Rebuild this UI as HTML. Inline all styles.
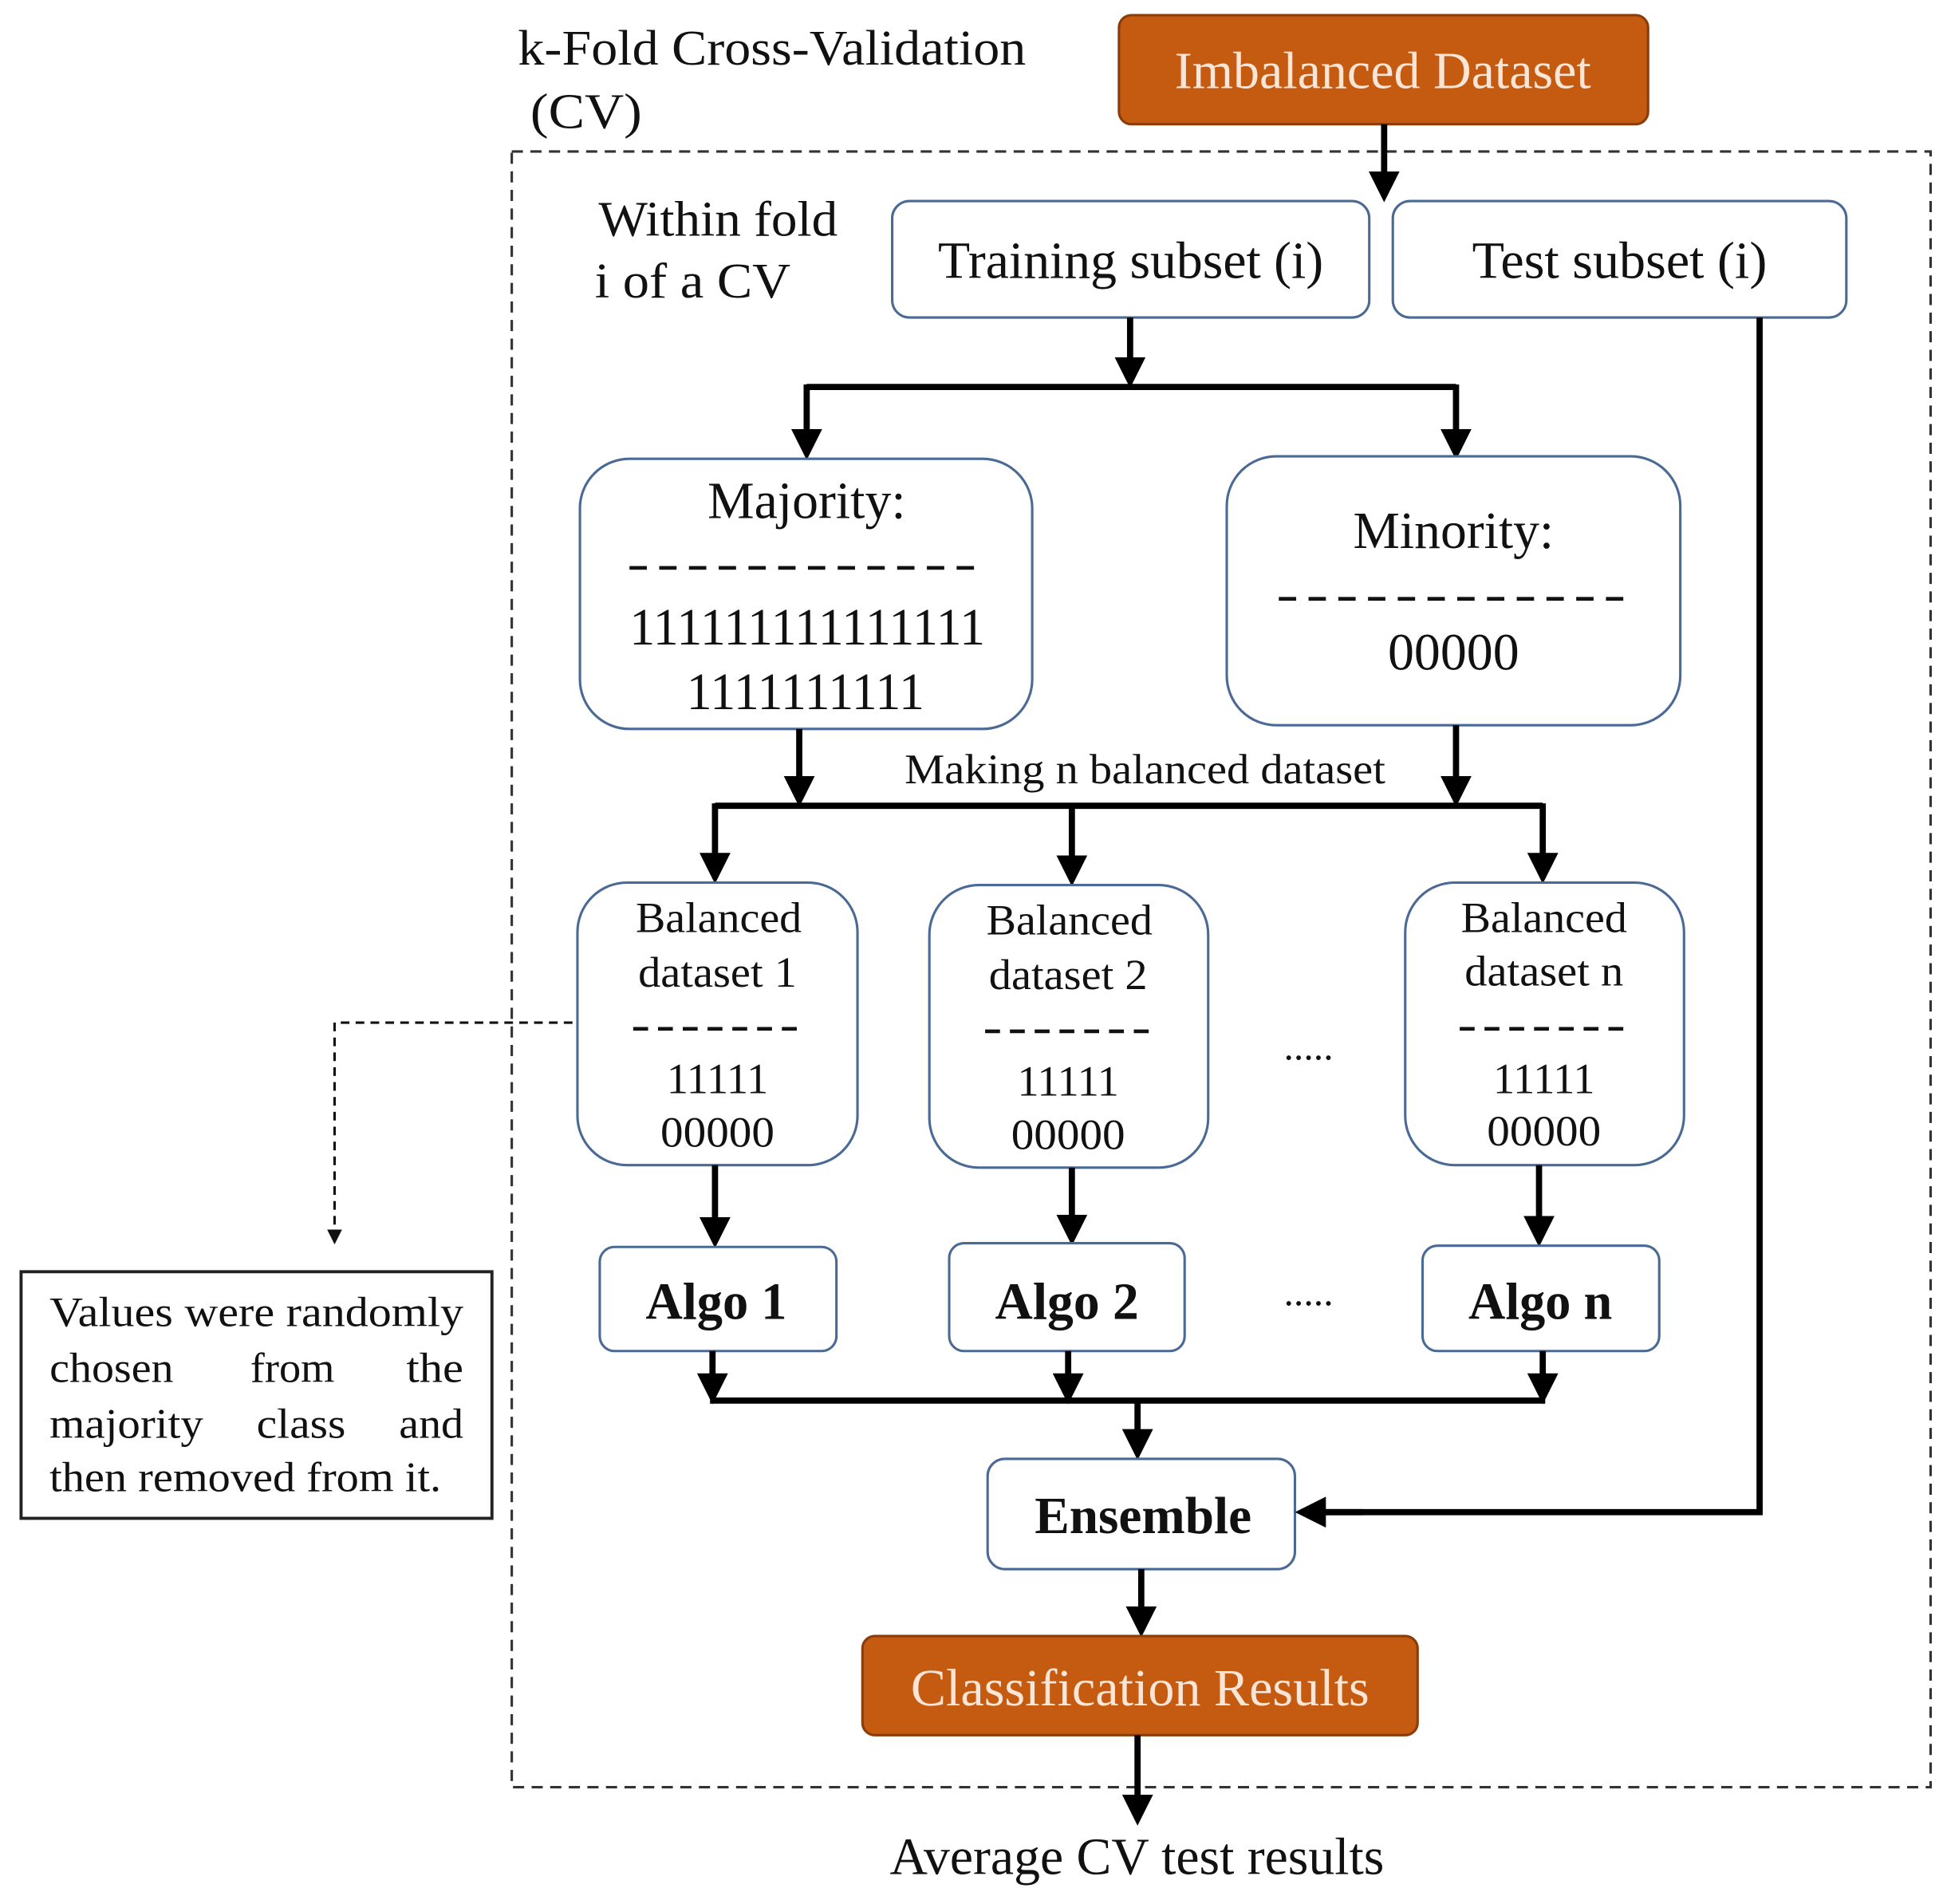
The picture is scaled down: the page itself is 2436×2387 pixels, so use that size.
<!DOCTYPE html>
<html><head><meta charset="utf-8"><style>
html,body{margin:0;padding:0;background:#fff}
svg{display:block}
text{font-family:"Liberation Serif",serif;fill:#111}
</style></head><body>
<svg width="2436" height="2387" viewBox="0 0 1568 1536" xmlns="http://www.w3.org/2000/svg">
<defs>
<marker id="ah" markerWidth="5" markerHeight="5" refX="4" refY="2.5" orient="auto" markerUnits="strokeWidth">
<path d="M0,0 L5,2.5 L0,5 z" fill="#000"/></marker>
</defs>

<rect x="413" y="122" width="1145" height="1320" fill="none" stroke="#333" stroke-width="2" stroke-dasharray="9,6"/>

<text x="418" y="52" font-size="40" textLength="410" lengthAdjust="spacingAndGlyphs">k-Fold Cross-Validation</text>
<text x="428" y="103" font-size="40" textLength="90" lengthAdjust="spacingAndGlyphs">(CV)</text>
<text x="483" y="190" font-size="40" textLength="193" lengthAdjust="spacingAndGlyphs">Within fold</text>
<text x="480" y="240" font-size="40" textLength="158" lengthAdjust="spacingAndGlyphs">i of a CV</text>

<rect x="903" y="12" width="427" height="88" rx="10" fill="#C55A11" stroke="#8a3c0a" stroke-width="2"/>
<text x="948" y="71" font-size="42" textLength="336" lengthAdjust="spacingAndGlyphs" style="fill:#FBE5D6">Imbalanced Dataset</text>
<line x1="1117" y1="100" x2="1117" y2="158" stroke="#000" stroke-width="5" marker-end="url(#ah)"/>

<rect x="720" y="162" width="385" height="94" rx="14" fill="#fff" stroke="#4a6a95" stroke-width="2"/>
<text x="757" y="224" font-size="42" textLength="311" lengthAdjust="spacingAndGlyphs">Training subset (i)</text>
<rect x="1124" y="162" width="366" height="94" rx="14" fill="#fff" stroke="#4a6a95" stroke-width="2"/>
<text x="1188" y="224" font-size="42" textLength="238" lengthAdjust="spacingAndGlyphs">Test subset (i)</text>

<line x1="912" y1="256" x2="912" y2="308" stroke="#000" stroke-width="5" marker-end="url(#ah)"/>
<line x1="651" y1="312" x2="1175" y2="312" stroke="#000" stroke-width="5"/>
<line x1="651" y1="310" x2="651" y2="366" stroke="#000" stroke-width="5" marker-end="url(#ah)"/>
<line x1="1175" y1="310" x2="1175" y2="366" stroke="#000" stroke-width="5" marker-end="url(#ah)"/>

<rect x="468" y="370" width="365" height="218" rx="40" fill="#fff" stroke="#4a6a95" stroke-width="2"/>
<text x="571" y="418" font-size="42" textLength="160" lengthAdjust="spacingAndGlyphs">Majority:</text>
<line x1="508" y1="458" x2="795" y2="458" stroke="#111" stroke-width="3" stroke-dasharray="14,10"/>
<text x="508" y="520" font-size="42" textLength="287" lengthAdjust="spacingAndGlyphs">111111111111111</text>
<text x="554" y="572" font-size="42" textLength="192" lengthAdjust="spacingAndGlyphs">1111111111</text>

<rect x="990" y="368" width="366" height="217" rx="40" fill="#fff" stroke="#4a6a95" stroke-width="2"/>
<text x="1092" y="442" font-size="42" textLength="162" lengthAdjust="spacingAndGlyphs">Minority:</text>
<line x1="1032" y1="483" x2="1316" y2="483" stroke="#111" stroke-width="3" stroke-dasharray="14,10"/>
<text x="1120" y="540" font-size="42" textLength="106" lengthAdjust="spacingAndGlyphs">00000</text>

<text x="730" y="632" font-size="34" textLength="388" lengthAdjust="spacingAndGlyphs">Making n balanced dataset</text>
<line x1="645" y1="588" x2="645" y2="646" stroke="#000" stroke-width="5" marker-end="url(#ah)"/>
<line x1="1175" y1="585" x2="1175" y2="646" stroke="#000" stroke-width="5" marker-end="url(#ah)"/>
<line x1="577" y1="650" x2="1245" y2="650" stroke="#000" stroke-width="5"/>
<line x1="577" y1="648" x2="577" y2="708" stroke="#000" stroke-width="5" marker-end="url(#ah)"/>
<line x1="865" y1="648" x2="865" y2="710" stroke="#000" stroke-width="5" marker-end="url(#ah)"/>
<line x1="1245" y1="648" x2="1245" y2="708" stroke="#000" stroke-width="5" marker-end="url(#ah)"/>

<g font-size="35">
<rect x="466" y="712" width="226" height="228" rx="40" fill="#fff" stroke="#4a6a95" stroke-width="2"/>
<text x="513" y="752" textLength="134" lengthAdjust="spacingAndGlyphs">Balanced</text>
<text x="515" y="796" textLength="128" lengthAdjust="spacingAndGlyphs">dataset 1</text>
<line x1="511" y1="830" x2="648" y2="830" stroke="#111" stroke-width="3" stroke-dasharray="12,8"/>
<text x="538" y="882" textLength="82" lengthAdjust="spacingAndGlyphs">11111</text>
<text x="533" y="925" textLength="92" lengthAdjust="spacingAndGlyphs">00000</text>

<rect x="750" y="714" width="225" height="228" rx="40" fill="#fff" stroke="#4a6a95" stroke-width="2"/>
<text x="796" y="754" textLength="134" lengthAdjust="spacingAndGlyphs">Balanced</text>
<text x="798" y="798" textLength="128" lengthAdjust="spacingAndGlyphs">dataset 2</text>
<line x1="795" y1="832" x2="932" y2="832" stroke="#111" stroke-width="3" stroke-dasharray="12,8"/>
<text x="821" y="884" textLength="82" lengthAdjust="spacingAndGlyphs">11111</text>
<text x="816" y="927" textLength="92" lengthAdjust="spacingAndGlyphs">00000</text>

<rect x="1134" y="712" width="225" height="228" rx="40" fill="#fff" stroke="#4a6a95" stroke-width="2"/>
<text x="1179" y="752" textLength="134" lengthAdjust="spacingAndGlyphs">Balanced</text>
<text x="1182" y="795" textLength="128" lengthAdjust="spacingAndGlyphs">dataset n</text>
<line x1="1178" y1="830" x2="1315" y2="830" stroke="#111" stroke-width="3" stroke-dasharray="12,8"/>
<text x="1205" y="882" textLength="82" lengthAdjust="spacingAndGlyphs">11111</text>
<text x="1200" y="924" textLength="92" lengthAdjust="spacingAndGlyphs">00000</text>
</g>
<text x="1056" y="855" font-size="32" text-anchor="middle">.....</text>
<text x="1056" y="1053" font-size="32" text-anchor="middle">.....</text>

<polyline points="462,825 270,825 270,1000" fill="none" stroke="#111" stroke-width="2" stroke-dasharray="7,5"/>
<path d="M264,992 L276,992 L270,1004 z" fill="#111"/>
<rect x="17" y="1026" width="380" height="199" fill="#fff" stroke="#222" stroke-width="2.5"/>
<g font-size="34">
<text x="40" y="1070" textLength="334" lengthAdjust="spacingAndGlyphs">Values were randomly</text>
<text x="40" y="1115" textLength="100" lengthAdjust="spacingAndGlyphs">chosen</text><text x="202" y="1115" textLength="68" lengthAdjust="spacingAndGlyphs">from</text><text x="328" y="1115" textLength="46" lengthAdjust="spacingAndGlyphs">the</text>
<text x="40" y="1160" textLength="124" lengthAdjust="spacingAndGlyphs">majority</text><text x="207" y="1160" textLength="72" lengthAdjust="spacingAndGlyphs">class</text><text x="322" y="1160" textLength="52" lengthAdjust="spacingAndGlyphs">and</text>
<text x="40" y="1203" textLength="316" lengthAdjust="spacingAndGlyphs">then removed from it.</text>
</g>

<line x1="577" y1="940" x2="577" y2="1002" stroke="#000" stroke-width="5" marker-end="url(#ah)"/>
<line x1="865" y1="942" x2="865" y2="1000" stroke="#000" stroke-width="5" marker-end="url(#ah)"/>
<line x1="1242" y1="940" x2="1242" y2="1001" stroke="#000" stroke-width="5" marker-end="url(#ah)"/>

<g font-size="42" style="font-weight:bold">
<rect x="484" y="1006" width="191" height="84" rx="12" fill="#fff" stroke="#4a6a95" stroke-width="2"/>
<text x="521" y="1064" textLength="114" lengthAdjust="spacingAndGlyphs">Algo 1</text>
<rect x="766" y="1003" width="190" height="87" rx="12" fill="#fff" stroke="#4a6a95" stroke-width="2"/>
<text x="803" y="1064" textLength="116" lengthAdjust="spacingAndGlyphs">Algo 2</text>
<rect x="1148" y="1005" width="191" height="85" rx="12" fill="#fff" stroke="#4a6a95" stroke-width="2"/>
<text x="1185" y="1064" textLength="116" lengthAdjust="spacingAndGlyphs">Algo n</text>
</g>

<line x1="575" y1="1090" x2="575" y2="1128" stroke="#000" stroke-width="5" marker-end="url(#ah)"/>
<line x1="862" y1="1090" x2="862" y2="1128" stroke="#000" stroke-width="5" marker-end="url(#ah)"/>
<line x1="1245" y1="1090" x2="1245" y2="1128" stroke="#000" stroke-width="5" marker-end="url(#ah)"/>
<line x1="573" y1="1130" x2="1247" y2="1130" stroke="#000" stroke-width="5"/>
<line x1="918" y1="1130" x2="918" y2="1173" stroke="#000" stroke-width="5" marker-end="url(#ah)"/>

<rect x="797" y="1177" width="248" height="89" rx="14" fill="#fff" stroke="#4a6a95" stroke-width="2"/>
<text x="835" y="1237" font-size="42" textLength="175" lengthAdjust="spacingAndGlyphs" style="font-weight:bold">Ensemble</text>

<polyline points="1420,256 1420,1220 1060,1220" fill="none" stroke="#000" stroke-width="5"/>
<line x1="1100" y1="1220" x2="1050" y2="1220" stroke="#000" stroke-width="5" marker-end="url(#ah)"/>

<line x1="921" y1="1266" x2="921" y2="1316" stroke="#000" stroke-width="5" marker-end="url(#ah)"/>
<rect x="696" y="1320" width="448" height="80" rx="10" fill="#C55A11" stroke="#8a3c0a" stroke-width="2"/>
<text x="735" y="1376" font-size="42" textLength="370" lengthAdjust="spacingAndGlyphs" style="fill:#FBE5D6">Classification Results</text>
<line x1="918" y1="1400" x2="918" y2="1468" stroke="#000" stroke-width="5" marker-end="url(#ah)"/>
<text x="718" y="1512" font-size="42" textLength="399" lengthAdjust="spacingAndGlyphs">Average CV test results</text>
</svg>
</body></html>
